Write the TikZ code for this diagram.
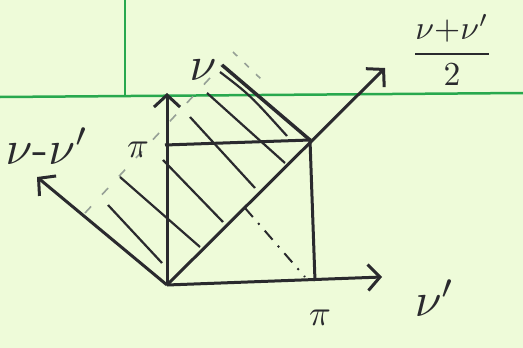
\documentclass[tikz,border=0pt]{standalone}
\usetikzlibrary{arrows.meta}
\definecolor{paper}{RGB}{238,251,217}
\definecolor{rule}{RGB}{40,168,78}
\definecolor{ink}{RGB}{42,42,46}
\definecolor{faint}{RGB}{150,160,150}
\tikzset{
  lbl/.style={text=ink, inner sep=0pt, scale=4.8},
  axis/.style={ink, line width=3pt, -{Straight Barb[length=12pt,width=26pt]}},
  hatch/.style={ink, line width=2.2pt},
}
\begin{document}
\begin{tikzpicture}[x=1pt,y=-1pt]
	\fill[paper] (0,0) rectangle (523,348);
	\useasboundingbox (0,0) rectangle (523,348);
	
	% ruled lines of the paper
	\draw[rule, line width=2.5pt] (0,97) -- (523,93);
	\draw[rule, line width=2.5pt] (125,0) -- (125,96);
	
	\coordinate (O) at (167,285);
	\coordinate (xend) at (382,277);
	\coordinate (yend) at (167,93);
	\coordinate (sumend) at (385,68);
	\coordinate (diffend) at (37,177);
	\coordinate (TL) at (165,145);
	\coordinate (TR) at (310,140);
	\coordinate (BR) at (315,281);
	\coordinate (topc) at (222,65);
	\coordinate (leftc) at (85,213);
	\coordinate (mid) at (245,208);
	\coordinate (midend) at (305,277);
	
	% axes
	\draw[axis] (O) -- (xend);
	\draw[axis] (O) -- (yend);
	\draw[axis] (O) -- (sumend);
	\draw[axis] (O) -- (diffend);
	
	% square [0,pi]x[0,pi]
	\draw[ink, line width=3pt] (TL) -- (TR) -- (BR);
	\draw[ink, line width=2pt, dash pattern=on 12pt off 8pt on 2pt off 8pt] (mid) -- (midend);
	
	% hatched strip between the diagonal and the dashed edge
	\draw[faint, line width=1.6pt, dash pattern=on 9pt off 16pt] (leftc) -- (topc);
	\draw[faint, line width=1.6pt, dash pattern=on 6pt off 10pt] (233,52) -- (262,80);
	\draw[ink, line width=3.5pt] (topc) -- (TR);
	\draw[hatch] (108,205) -- (162,263);
	\draw[hatch] (120,177) -- (200,247);
	\draw[hatch] (163,160) -- (223,222);
	\draw[hatch] (190,117) -- (255,188);
	\draw[hatch] (207,93) -- (285,163);
	\draw[hatch] (220,72) .. controls (250,95) .. (287,136);
	
	\node[lbl] (ylab) at (203,70) {$\nu$};
	\node[lbl] (xlab) at (435,298) {$\nu'$};
	\node[lbl] (difflab) at (47,146) {$\nu\mbox{-}\nu'$};
	\node[lbl, scale=0.7] (sumlab) at (452,50) {$\displaystyle\frac{\nu{+}\nu'}{2}$};
	\node[lbl, scale=0.75] (pix) at (320,318) {$\pi$};
	\node[lbl, scale=0.75] (piy) at (138,150) {$\pi$};
\end{tikzpicture}
\end{document}
